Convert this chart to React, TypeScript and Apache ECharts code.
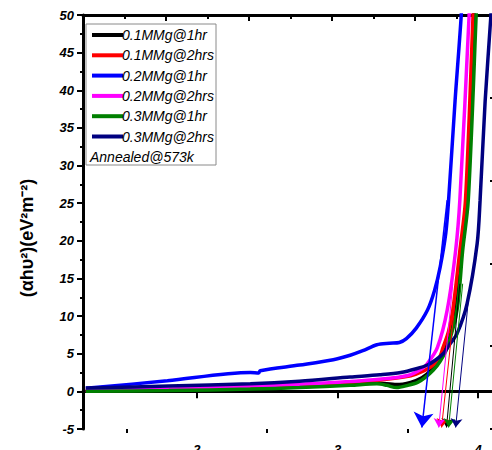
import React, { useEffect, useRef } from "react";
import * as echarts from "echarts";

const seriesNames = ["0.1MMg@1hr", "0.1MMg@2hrs", "0.2MMg@1hr", "0.2MMg@2hrs", "0.3MMg@1hr", "0.3MMg@2hrs"];
const seriesColors = ["#000000", "#ff0000", "#0000ff", "#ff00ff", "#008000", "#000080"];
const annealNote = "Annealed@573k";
const yAxisTitle = "(αhυ²)(eV²m⁻²)";

// photon energy (eV), (αhυ)^2 values
const mg01_1hr: [number, number][] = [
  [1.21, 0.05], [1.8, 0.15], [2.38, 0.4], [2.73, 0.6], [3.09, 0.9], [3.28, 1.1], [3.42, 0.9],
  [3.52, 1.2], [3.6, 1.8], [3.66, 2.7], [3.72, 4.2], [3.77, 6.2], [3.84, 11.0], [3.88, 18.7],
  [3.92, 25.4], [3.97, 50], [3.98, 53],
];
const mg01_2hrs: [number, number][] = [
  [1.21, 0.1], [1.8, 0.2], [2.38, 0.5], [2.73, 0.8], [3.09, 1.2], [3.3, 1.5], [3.47, 1.9],
  [3.56, 2.3], [3.66, 3.2], [3.72, 4.3], [3.75, 5.8], [3.79, 8.0], [3.82, 10.8], [3.87, 18.7],
  [3.91, 25.4], [3.964, 50], [3.97, 53],
];
const mg02_1hr: [number, number][] = [
  [1.21, 0.4], [1.79, 1.4], [2.38, 2.5], [2.44, 2.45], [2.45, 2.75], [2.73, 3.5], [2.97, 4.2],
  [3.09, 4.8], [3.18, 5.4], [3.28, 6.2], [3.37, 6.4], [3.44, 6.5], [3.49, 7.0], [3.56, 8.4],
  [3.64, 10.8], [3.69, 13.4], [3.73, 16.5], [3.77, 21], [3.79, 25.4], [3.836, 38.6], [3.88, 50],
  [3.89, 55],
];
const mg02_2hrs: [number, number][] = [
  [1.21, 0.15], [1.8, 0.3], [2.38, 0.7], [2.73, 0.95], [3.09, 1.3], [3.3, 1.6], [3.5, 2.1],
  [3.6, 3.0], [3.64, 3.7], [3.71, 5.8], [3.78, 10.8], [3.84, 18.7], [3.87, 25.4], [3.936, 50],
  [3.94, 53],
];
const mg03_1hr: [number, number][] = [
  [1.21, 0.0], [1.8, 0.1], [2.38, 0.3], [2.73, 0.5], [3.09, 0.8], [3.28, 1.0], [3.35, 0.8],
  [3.42, 0.5], [3.5, 0.8], [3.57, 1.2], [3.62, 1.8], [3.68, 2.8], [3.73, 4.0], [3.78, 5.8],
  [3.85, 10.8], [3.89, 18.7], [3.93, 25.4], [3.986, 50], [3.99, 53],
];
const mg03_2hrs: [number, number][] = [
  [1.21, 0.45], [1.8, 0.7], [2.38, 1.0], [2.73, 1.35], [3.09, 1.9], [3.3, 2.2], [3.45, 2.5],
  [3.56, 3.0], [3.64, 3.5], [3.7, 4.2], [3.751, 5.0], [3.8, 6.3], [3.851, 7.7], [3.922, 11.7],
  [3.993, 19.6], [4.014, 25.4], [4.05, 38.6], [4.09, 49.7], [4.1, 53],
];
const curves = [mg01_1hr, mg01_2hrs, mg02_1hr, mg02_2hrs, mg03_1hr, mg03_2hrs];

// tangent extrapolations: [xStart, yStart, xEnd, yEnd]
const tangents: [number, number, number, number][] = [
  [3.87, 14.3, 3.775, -4.8],
  [3.85, 14.3, 3.74, -4.8],
  [3.78, 25.4, 3.6, -4.8],
  [3.82, 14.3, 3.72, -4.8],
  [3.89, 14.3, 3.79, -4.8],
  [3.93, 12.0, 3.84, -4.8],
];
const arrowSizes = [9, 9, 15, 9, 9, 9];

const xMajorTicks = [2, 3, 4];
const xMinorTicks = [1.5, 2.5, 3.5];

const FONT = "Liberation Sans, Arial, sans-serif";

export default function App() {
  const ref = useRef<HTMLDivElement>(null);
  useEffect(() => {
    if (!ref.current) return;
    const chart = echarts.init(ref.current, null, { renderer: "svg" });
    const lineSeries = curves.map((d, i) => ({
      name: seriesNames[i],
      type: "line",
      data: d,
      showSymbol: false,
      symbol: "none",
      smooth: 0.3,
      clip: true,
      lineStyle: { color: seriesColors[i], width: 3.5 },
      itemStyle: { color: seriesColors[i] },
      xAxisIndex: 0,
      yAxisIndex: 0,
      z: 2 + i,
    }));
    const tangentSeries = {
      type: "lines",
      coordinateSystem: "cartesian2d",
      xAxisIndex: 0,
      yAxisIndex: 0,
      z: 10,
      data: tangents.map((t, i) => ({
        coords: [[t[0], t[1]], [t[2], t[3]]],
        lineStyle: { color: seriesColors[i], width: i === 2 ? 1.5 : 1, opacity: 1 },
        symbol: ["none", "arrow"],
        symbolSize: arrowSizes[i],
      })),
      symbol: ["none", "arrow"],
      symbolSize: 9,
      lineStyle: { width: 1, opacity: 1, curveness: 0 },
    };

    const legendGraphics: any[] = [
      {
        type: "rect",
        shape: { x: 86, y: 24, width: 130, height: 141 },
        style: { fill: "#ffffff", stroke: "#8a8a8a", lineWidth: 1 },
        z: 100,
      },
    ];
    seriesNames.forEach((n, i) => {
      const y = 35 + i * 20.3;
      legendGraphics.push({
        type: "line",
        shape: { x1: 92, y1: y, x2: 123, y2: y },
        style: { stroke: seriesColors[i], lineWidth: 4 },
        z: 101,
      });
      legendGraphics.push({
        type: "text",
        x: 122,
        y: y,
        style: {
          text: n,
          font: `italic 14px ${FONT}`,
          fill: "#000",
          align: "left",
          verticalAlign: "middle",
        },
        z: 101,
      });
    });
    legendGraphics.push({
      type: "text",
      x: 90,
      y: 157,
      style: {
        text: annealNote,
        font: `italic 14px ${FONT}`,
        fill: "#000",
        align: "left",
        verticalAlign: "middle",
      },
      z: 101,
    });
    legendGraphics.push({
      type: "text",
      x: 27,
      y: 238,
      rotation: Math.PI / 2,
      style: {
        text: yAxisTitle,
        font: `bold 18px ${FONT}`,
        fill: "#000",
        align: "center",
        verticalAlign: "middle",
      },
    });

    const labelStyle = { fontFamily: FONT, fontSize: 13, fontWeight: "bold", fontStyle: "italic", color: "#000" };

    chart.setOption({
      animation: false,
      backgroundColor: "#ffffff",
      grid: { left: 83, top: 15, right: -3, bottom: 21, containLabel: false, outerBoundsMode: "none" },
      xAxis: [
        {
          type: "value",
          min: 1.19,
          max: 4.12,
          position: "bottom",
          axisLine: { show: true, lineStyle: { color: "#000", width: 3 } },
          axisTick: { show: true, customValues: xMajorTicks, length: 7, inside: false, lineStyle: { color: "#000", width: 2 } },
          axisLabel: { show: true, customValues: xMajorTicks, margin: 14, ...labelStyle },
          splitLine: { show: false },
        },
        {
          type: "value",
          min: 1.19,
          max: 4.12,
          position: "bottom",
          axisLine: { show: false },
          axisTick: { show: true, customValues: xMinorTicks, length: 4, inside: false, lineStyle: { color: "#000", width: 2 } },
          axisLabel: { show: false },
          splitLine: { show: false },
        },
        {
          type: "value",
          min: 0,
          max: 9.93,
          interval: 2,
          position: "top",
          axisLine: { show: true, lineStyle: { color: "#000", width: 3 } },
          axisTick: { show: true, inside: true, length: 6, lineStyle: { color: "#000", width: 2 } },
          minorTick: { show: true, splitNumber: 2, length: 4, lineStyle: { color: "#000", width: 2 } },
          axisLabel: { show: false },
          splitLine: { show: false },
        },
      ],
      yAxis: [
        {
          type: "value",
          min: -5,
          max: 50,
          interval: 5,
          position: "left",
          axisLine: { show: true, lineStyle: { color: "#000", width: 3 } },
          axisTick: { show: true, inside: false, length: 6, lineStyle: { color: "#000", width: 2 } },
          minorTick: { show: true, splitNumber: 2, length: 3, lineStyle: { color: "#000", width: 2 } },
          axisLabel: { show: true, margin: 9, ...labelStyle },
          splitLine: { show: false },
        },
        {
          type: "value",
          min: 0,
          max: 5,
          interval: 1,
          position: "right",
          axisLine: { show: false },
          axisTick: { show: true, inside: true, length: 5, lineStyle: { color: "#000", width: 2 } },
          axisLabel: { show: false },
          splitLine: { show: false },
        },
      ],
      series: [...lineSeries, tangentSeries],
      graphic: legendGraphics,
    });
    return () => chart.dispose();
  }, []);
  return (
    <div
      ref={ref}
      style={{ position: "fixed", left: 0, top: 0, width: 492, height: 450, background: "#fff" }}
    />
  );
}
